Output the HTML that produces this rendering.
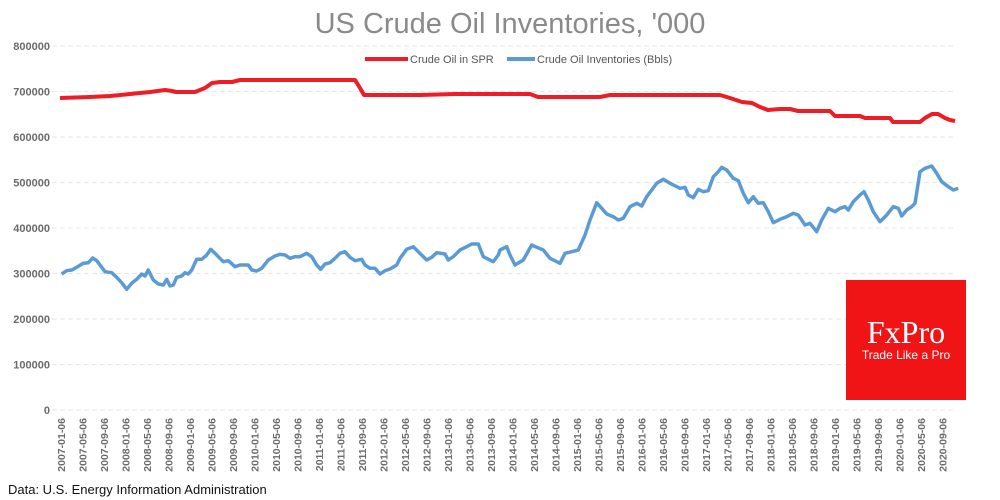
<!DOCTYPE html>
<html><head><meta charset="utf-8"><style>
body{margin:0;background:#fff;width:1000px;height:500px;overflow:hidden}
svg{display:block}
</style></head><body>
<svg width="1000" height="500" xmlns="http://www.w3.org/2000/svg" font-family="Liberation Sans, sans-serif">
<text x="510" y="33" text-anchor="middle" font-size="29" fill="#8a8a8a">US Crude Oil Inventories, '000</text>
<g stroke="#e6e6e6" stroke-dasharray="5,3" stroke-width="1">
<line x1="44" x2="955" y1="46" y2="46"/><line x1="44" x2="955" y1="91.5" y2="91.5"/><line x1="44" x2="955" y1="137" y2="137"/><line x1="44" x2="955" y1="182.5" y2="182.5"/><line x1="44" x2="955" y1="228" y2="228"/><line x1="44" x2="955" y1="273.5" y2="273.5"/><line x1="44" x2="955" y1="319" y2="319"/><line x1="44" x2="955" y1="364.5" y2="364.5"/><line x1="44" x2="955" y1="410" y2="410"/>
</g>
<g font-size="11" font-weight="bold" fill="#6b6b6b" text-anchor="end">
<text x="50" y="50">800000</text><text x="50" y="95.5">700000</text><text x="50" y="141">600000</text><text x="50" y="186.5">500000</text><text x="50" y="232">400000</text><text x="50" y="277.5">300000</text><text x="50" y="323">200000</text><text x="50" y="368.5">100000</text><text x="50" y="414">0</text>
</g>
<g id="xl" font-size="10.5" font-weight="bold" fill="#6b6b6b" text-anchor="end"></g>
<g>
<line x1="365" y1="59" x2="408" y2="59" stroke="#ee1c25" stroke-width="4"/>
<text x="410" y="63" font-size="11" fill="#555">Crude Oil in SPR</text>
<line x1="507" y1="59" x2="535" y2="59" stroke="#5b9bd5" stroke-width="4"/>
<text x="537" y="63" font-size="11" fill="#555">Crude Oil Inventories (Bbls)</text>
</g>
<polyline fill="none" stroke="#ee1c25" stroke-width="4" stroke-linejoin="round" points="60,98 90,97 110,96 130,94 150,92 165,90 172,91 176,92 195,92 205,88 212,83 220,82 232,82 240,80 355,80 360,88 364,95 420,95 455,94 530,94 538,97 600,97 610,95 720,95 730,98 742,102 752,103 760,107 768,110 780,109 790,109 798,111 830,111 835,116 860,116 865,118 890,118 893,122 920,122 925,118 932,114 938,114 945,118 950,120 955,121"/>
<polyline id="blue" fill="none" stroke="#5b9bd5" stroke-width="3.5" stroke-linejoin="round"/>
<rect x="846" y="280" width="120" height="120" fill="#f01417"/>
<text x="906" y="343" text-anchor="middle" font-family="Liberation Serif, serif" font-size="32" fill="#fff">FxPro</text>
<text x="906" y="359" text-anchor="middle" font-size="12" fill="#fff">Trade Like a Pro</text>
<text x="8" y="494" font-size="13" fill="#111">Data: U.S. Energy Information Administration</text>
</svg>
<script>
var z5=[[35,222],[50,212],[65,210],[80,202],[100,190],[115,188],[128,174],[140,182],[150,195],[165,215],[185,218],[200,232],[215,248],[230,268],[245,250],[260,238],[275,222],[285,228],[295,210],[310,240],[325,252],[340,255],[350,238],[360,258],[370,255],[380,232],[395,228],[405,218],[415,222],[425,210],[440,178],[455,178],[470,165],[482,148],[495,160],[505,170],[520,185],[535,182],[555,200],[570,195],[595,195],[605,210],[620,213],[635,205],[655,180],[675,168],[690,163],[705,165],[720,175],[735,170],[750,170],[770,160],[785,170],[800,195],[812,208],[825,192],[840,188],[855,175],[870,160],[885,155],[900,172],[915,182],[935,178],[945,195],[960,205],[975,205],[990,222],[1005,212],[1020,207],[1040,195],[1050,175],[1070,148],[1090,140],[1105,155],[1130,180],[1145,172],[1160,158],[1185,162],[1195,180],[1210,170],[1230,150],[1250,140],[1265,132],[1285,132],[1300,170],[1330,185],[1345,165]];
var z6=[[0,300],[20,290],[30,315],[45,345],[70,330],[95,285],[110,292],[130,300],[150,325],[180,340],[195,310],[215,305],[235,300],[255,255],[270,210],[290,158],[305,175],[320,192],[340,200],[355,210],[370,205],[390,170],[410,160],[425,168],[440,140],[455,120],[470,100],[490,88],[510,100],[540,115],[555,112],[565,135],[580,143],[595,118],[610,125],[625,122],[640,80],[655,65],[665,52],[680,60],[700,85],[715,92],[730,130],[745,158],[760,140],[775,160],[790,158],[805,185],[820,218],[840,208],[860,200],[880,190],[895,195],[915,225],[930,220],[950,245],[965,210],[985,175],[1005,185],[1020,175],[1035,170],[1045,180],[1060,155],[1080,135],[1092,125],[1105,150],[1120,185],[1140,215],[1160,195],[1180,170],[1195,175],[1205,198],[1220,180],[1235,170],[1245,160],[1260,65],[1275,55],[1295,48],[1310,70],[1325,95],[1345,110],[1360,120],[1375,115]];
var p=[];z5.forEach(function(a){p.push((50+a[0]/3).toFixed(1)+","+(200+a[1]/3).toFixed(1))});
z6.forEach(function(a){p.push((500+a[0]/3).toFixed(1)+","+(150+a[1]/3).toFixed(1))});
document.getElementById("blue").setAttribute("points",p.join(" "));
var g=document.getElementById("xl"),s="";
for(var i=0;i<42;i++){var m=i*4,y=2007+Math.floor(m/12),mo=m%12+1;var x=61+i*21.5+4;
s+='<text transform="translate('+x+',418) rotate(-90)">'+y+'-'+(mo<10?'0':'')+mo+'-06</text>';}
g.innerHTML=s;
</script>
</body></html>
